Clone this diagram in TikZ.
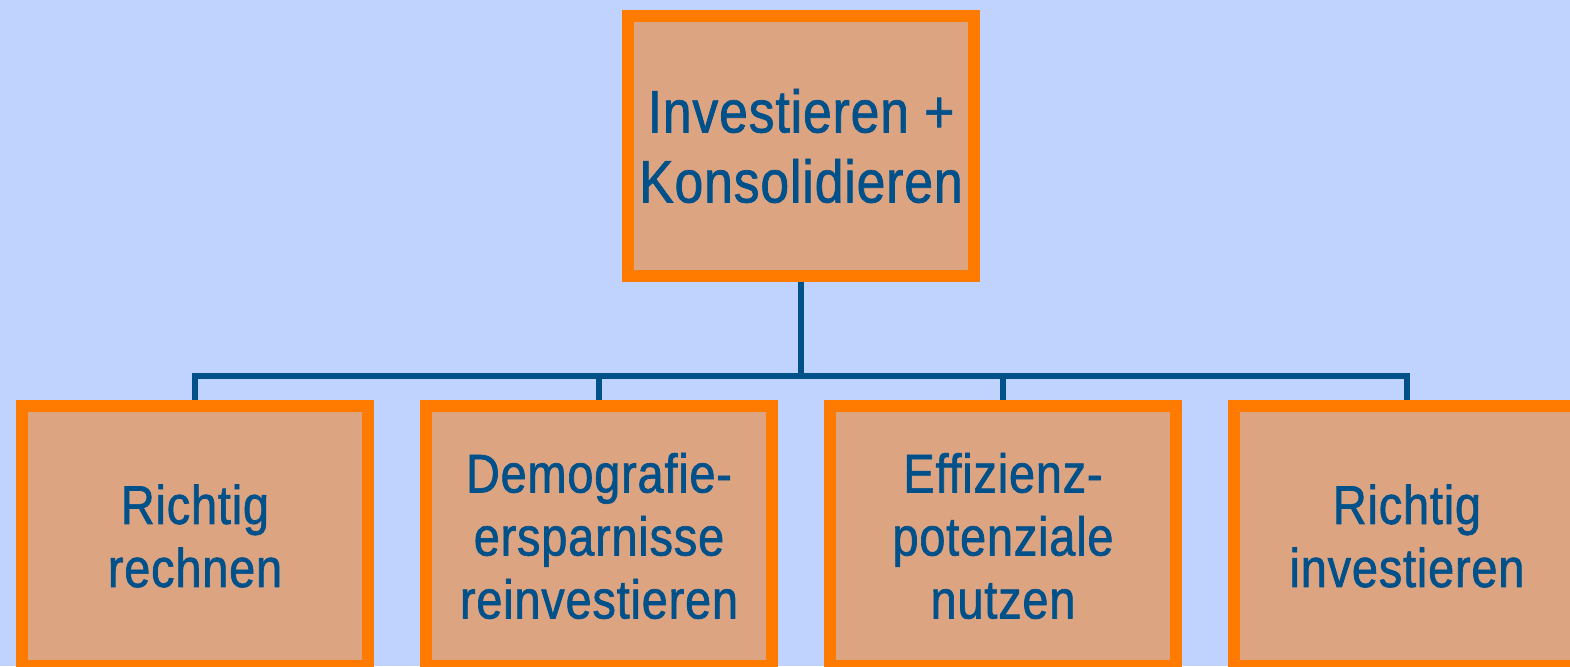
\documentclass[tikz,border=0pt]{standalone}
\usepackage{fontspec}
\setmainfont{Liberation Sans}[FakeStretch=0.86,FakeBold=1.2,LetterSpace=1.5]
\definecolor{hgblau}{HTML}{C0D2FE}
\definecolor{kasten}{HTML}{DDA482}
\definecolor{rand}{HTML}{FF7B00}
\definecolor{linie}{HTML}{00508A}
\begin{document}
\begin{tikzpicture}[x=1pt,y=-1pt,
  kasten/.style={draw=rand,fill=kasten,line width=12pt,minimum width=346pt,minimum height=260pt,
    text=linie,align=center,inner sep=0pt},
  gross/.style={font=\fontsize{60}{70}\selectfont},
  klein/.style={font=\fontsize{54.5}{63}\selectfont},
  verb/.style={draw=linie,line width=6pt}]
\pgfmathsetmacro{\W}{1570}
\pgfmathsetmacro{\H}{666}
\pgfmathsetmacro{\d}{404}
\useasboundingbox(0,0)rectangle(\W,\H);
\fill[hgblau](0,0)rectangle(\W,\H);
\node[kasten,gross](ik)at(801,146){Investieren +\\Konsolidieren};
\node[kasten,klein](rr)at(195,536){Richtig\\rechnen};
\node[kasten,klein](de)at(195+\d,536){Demografie-\\ersparnisse\\reinvestieren};
\node[kasten,klein](ef)at(195+2*\d,536){Effizienz-\\potenziale\\nutzen};
\node[kasten,klein](ri)at(195+3*\d,536){Richtig\\investieren};
\coordinate(bus)at(801,376);
\draw[verb](ik)--(bus);
\foreach \n in {rr,de,ef,ri}
  \draw[verb](bus)-|(\n);
\end{tikzpicture}
\end{document}
